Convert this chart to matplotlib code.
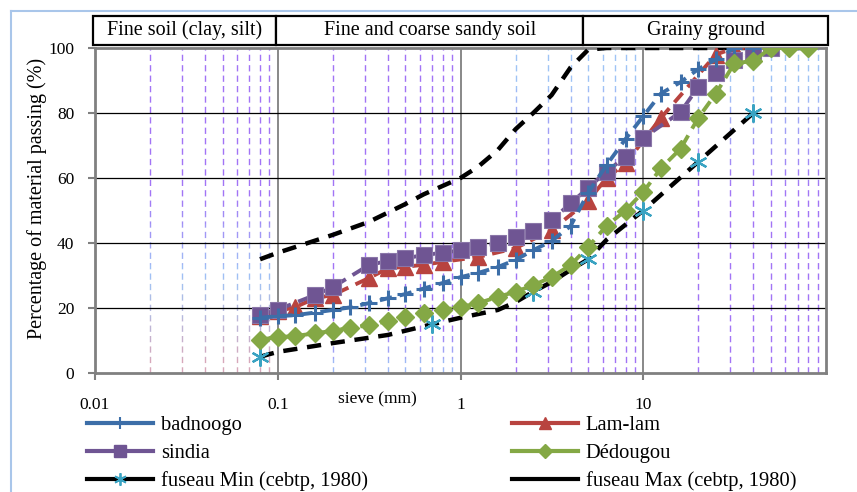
import numpy as np
import matplotlib
matplotlib.use("Agg")
from matplotlib import pyplot as plt
from matplotlib.patches import Rectangle
from matplotlib.lines import Line2D
from matplotlib.colors import to_rgb

plt.rcParams['font.family'] = ['Liberation Serif', 'DejaVu Serif']

# grading curves (sieve size in mm, % passing)
bad_x = [0.08, 0.1, 0.125, 0.16, 0.2, 0.25, 0.315, 0.4, 0.5, 0.63, 0.8, 1, 1.25, 1.6, 2, 2.5,
         3.15, 4, 5, 6.3, 8, 10, 12.5, 16, 20, 25, 31.5, 40]
bad_y = [17, 17.5, 17.8, 18.6, 19.4, 20.2, 21.5, 23, 24.3, 26, 27.7, 29.5, 30.8, 32.6, 34.8, 37.8,
         40.6, 45.2, 55.5, 64, 72, 79, 86, 89.5, 93.5, 96.5, 100, 100]

lam_x = [0.08, 0.1, 0.125, 0.16, 0.2, 0.315, 0.4, 0.5, 0.63, 0.8, 1.25, 2, 3.15, 5, 6.3, 8,
         12.5, 25, 31.5, 40]
lam_y = [17.5, 19, 20.3, 23, 24, 29.2, 32.2, 32.7, 33.3, 34.2, 35.7, 38.4, 44, 53, 60, 64.5,
         78.5, 98, 100, 100]

sin_x = [0.08, 0.1, 0.16, 0.2, 0.315, 0.4, 0.5, 0.63, 0.8, 1, 1.25, 1.6, 2, 2.5, 3.15, 4, 5,
         6.3, 8, 10, 16, 20, 25, 31.5, 40, 50]
sin_y = [17.8, 19.5, 24, 26.4, 33.2, 34.5, 35.3, 36.3, 37, 37.8, 38.8, 40, 41.8, 43.7, 47, 52.2, 57,
         62, 66.5, 72.3, 80.3, 88, 92.3, 96.3, 98.5, 100]

ded_x = [0.08, 0.1, 0.125, 0.16, 0.2, 0.25, 0.315, 0.4, 0.5, 0.63, 0.8, 1, 1.25, 1.6, 2, 2.5,
         3.15, 4, 5, 6.3, 8, 10, 12.5, 16, 20, 25, 31.5, 40, 50, 63, 80]
ded_y = [10.3, 11, 11.4, 12.2, 13, 13.9, 14.7, 16, 17.2, 18.4, 19.4, 20.3, 21.5, 23.4, 25, 27,
         29.5, 33.2, 38.8, 45.3, 50, 55.7, 63, 69, 78.5, 86, 95.3, 96, 100, 100, 100]

# CEBTP (1980) envelope
min_x = [0.08, 0.1, 0.2, 0.4, 0.7, 1, 1.6, 2, 2.5, 3.15, 4, 5, 6.3, 10, 20, 40]
min_y = [5, 6.5, 9.2, 11.7, 15, 17, 19.4, 21.8, 25, 28, 31.7, 35, 41, 50, 65, 80]
min_marks = [0, 4, 8, 11, 13, 14, 15]

max_x = [0.08, 0.1, 0.2, 0.315, 0.5, 0.63, 1, 1.25, 1.6, 2, 2.5, 3.15, 4, 5, 6.3, 10, 20, 40, 80]
max_y = [35, 37, 42.5, 46.5, 52, 55, 60, 63.5, 68.6, 75, 80, 85.5, 94, 99.5, 100, 100, 100, 100, 100]

x_ticks = [0.01, 0.1, 1, 10]
x_tick_labels = ["0.01", "0.1", "1", "10"]
y_ticks = [0, 20, 40, 60, 80, 100]

zones = ["Fine soil (clay, silt)", "Fine and coarse sandy soil", "Grainy ground"]

c_blue = '#3c6ea8'
c_red = '#b8433f'
c_purple = '#6f5593'
c_green = '#84a845'
c_cyan = '#3aa3c2'

fig = plt.figure(figsize=(8.57, 4.92), dpi=100)
ax = fig.add_axes([95/857, 1-373/492, 731/857, 325/492])
ax.set_xscale('log')
ax.set_xlim(0.01, 100)
ax.set_ylim(0, 100)

# minor sieve grid, dashed with a colour gradient along each line
purple = np.array(to_rgb('#a274f5'))
lblue = np.array(to_rgb('#9fc4f5'))
pink = np.array(to_rgb('#dba6b6'))
stops = [
    [(0.0, pink), (0.3, lblue), (0.55, purple), (1.0, purple)],
    [(0.0, lblue), (0.15, purple), (1.0, purple)],
    [(0.0, purple), (0.55, purple), (0.9, lblue), (1.0, lblue)],
    [(0.0, purple), (0.55, purple), (0.9, lblue), (1.0, lblue)],
]

def grad(dec, f):
    st = stops[dec]
    for (f0, c0), (f1, c1) in zip(st[:-1], st[1:]):
        if f0 <= f <= f1:
            t = (f - f0) / (f1 - f0)
            return c0 * (1 - t) + c1 * t
    return st[-1][1]

nb = 24
for dec, base in enumerate([0.01, 0.1, 1, 10]):
    for m in range(2, 10):
        for k in range(nb):
            y0, y1 = k / nb, (k + 1) / nb
            ln = ax.axvline(base * m, color=grad(dec, (y0 + y1) / 2), lw=1.0,
                            ls=(0, (4.5, 3)), zorder=1)
            ln.set_clip_path(Rectangle((0, y0), 1, y1 - y0, transform=ax.transAxes))

for xv in [0.1, 1, 10]:
    ax.axvline(xv, color='#7f7f7f', lw=1.3, zorder=1.5)
for yv in [20, 40, 60, 80]:
    ax.axhline(yv, color='black', lw=0.9, zorder=1.5)

ax.plot(max_x, max_y, color='black', lw=3.2, ls=(0, (3.2, 2.2)), zorder=3)
ax.plot(min_x, min_y, color='black', lw=3.2, ls=(0, (3.2, 2.2)), zorder=4,
        marker=(6, 2, 0), ms=13, mec=c_cyan, mew=1.6, markevery=min_marks)
ax.plot(lam_x, lam_y, color=c_red, lw=2.8, ls=(0, (3.2, 2)), marker='^', ms=11,
        mfc=c_red, mec=c_red, zorder=5)
ax.plot(sin_x, sin_y, color=c_purple, lw=2.8, ls=(0, (3.2, 2)), marker='s', ms=11,
        mfc=c_purple, mec='#8a76a8', mew=0.8, zorder=6)
ax.plot(bad_x, bad_y, color=c_blue, lw=2.8, ls=(0, (3.2, 2)), marker='+', ms=12,
        mew=2.2, mec=c_blue, zorder=7)
ax.plot(ded_x, ded_y, color=c_green, lw=2.8, ls=(0, (3.2, 2)), marker='D', ms=9.5,
        mfc=c_green, mec=c_green, zorder=8)

for s in ax.spines.values():
    s.set_color('#808080')
    s.set_linewidth(2)
ax.set_xticks(x_ticks)
ax.set_xticklabels(x_tick_labels)
ax.minorticks_off()
ax.set_yticks(y_ticks)
ax.tick_params(axis='x', length=5, width=1.5, color='#808080', pad=12.5, labelsize=12.5)
ax.tick_params(axis='y', length=5, width=1.5, color='#808080', pad=10, labelsize=12.5)

fig.text(37/857, 1-198/492, "Percentage of material passing (%)", rotation=90,
         ha='center', va='center', fontsize=14.5)
fig.text(377/857, 1-399/492, "sieve (mm)", ha='center', va='center', fontsize=12.5)

# soil class header boxes
edges = [-0.0027, 0.2476, 0.668, 1.0027]
for i, name in enumerate(zones):
    r = Rectangle((edges[i], 1.009), edges[i+1] - edges[i], 0.089, transform=ax.transAxes,
                  facecolor='white', edgecolor='black', lw=1.6, clip_on=False, zorder=10)
    ax.add_patch(r)
    ax.text((edges[i] + edges[i+1]) / 2, 1.0535, name, transform=ax.transAxes,
            ha='center', va='center', fontsize=14.5, zorder=11)

handles = [
    Line2D([], [], color=c_blue, lw=3, marker='+', ms=9, mew=1.5),
    Line2D([], [], color=c_purple, lw=3, marker='s', ms=9),
    Line2D([], [], color='black', lw=3, marker=(6, 2, 0), ms=9, mec=c_cyan, mew=1.3),
    Line2D([], [], color=c_red, lw=3, marker='^', ms=8),
    Line2D([], [], color=c_green, lw=3, marker='D', ms=7),
    Line2D([], [], color='black', lw=3),
]
labels = ["badnoogo", "sindia", "fuseau Min (cebtp, 1980)",
          "Lam-lam", "Dédougou", "fuseau Max (cebtp, 1980)"]
fig.legend(handles, labels, loc='upper left', bbox_to_anchor=(87/857, 1-416/492),
           ncol=2, frameon=False, fontsize=14.8, handlelength=3.2, handletextpad=0.4,
           columnspacing=7.0, labelspacing=0.4, borderpad=0, borderaxespad=0)

# chart area border
fig.add_artist(Line2D([11/857, 1], [1-11/492, 1-11/492], color='#a9c6ea', lw=1.5))
fig.add_artist(Line2D([11/857, 11/857], [0, 1-11/492], color='#a9c6ea', lw=1.5))

fig.savefig("out.png", dpi=100)
